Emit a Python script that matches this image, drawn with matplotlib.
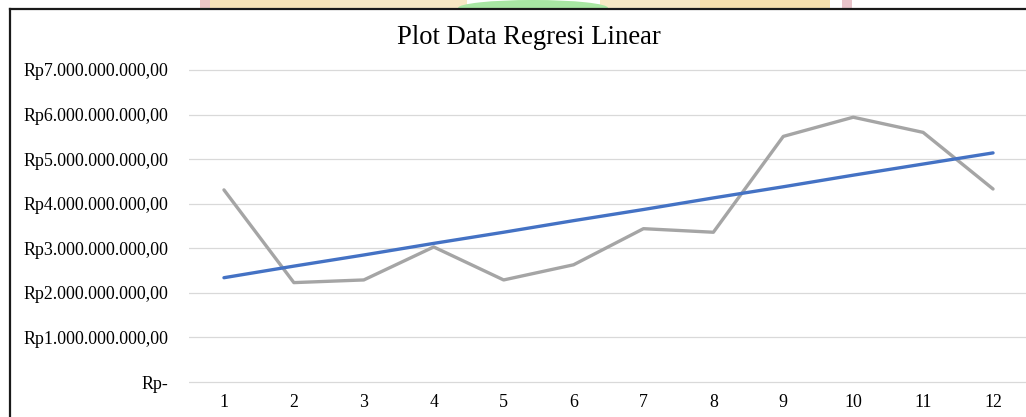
import numpy as np
import matplotlib.pyplot as plt
from matplotlib.patches import Ellipse, Rectangle
from matplotlib.lines import Line2D

plt.rcParams['font.family'] = ['Liberation Serif', 'DejaVu Serif']

# data (Rupiah)
bulan = [1, 2, 3, 4, 5, 6, 7, 8, 9, 10, 11, 12]
aktual = [4.31e9, 2.23e9, 2.29e9, 3.03e9, 2.29e9, 2.63e9,
          3.44e9, 3.36e9, 5.51e9, 5.94e9, 5.60e9, 4.33e9]
regresi = [2.34e9, 2.60e9, 2.85e9, 3.11e9, 3.36e9, 3.62e9,
           3.87e9, 4.13e9, 4.38e9, 4.64e9, 4.89e9, 5.14e9]
yticks = [0, 1e9, 2e9, 3e9, 4e9, 5e9, 6e9, 7e9]
ylabels = ['Rp-', 'Rp1.000.000.000,00', 'Rp2.000.000.000,00', 'Rp3.000.000.000,00',
           'Rp4.000.000.000,00', 'Rp5.000.000.000,00', 'Rp6.000.000.000,00',
           'Rp7.000.000.000,00']

W, H = 1026, 417
fig = plt.figure(figsize=(W / 100, H / 100), dpi=100)

# faint logo strip above the chart frame
for x0, x1, c in [(200, 210, '#ecc4c4'), (210, 330, '#f8e4b8'), (330, 467, '#f7e8c4'),
                  (600, 700, '#f7e8c4'), (700, 830, '#f6dfae'), (842, 852, '#e8c3ca')]:
    fig.add_artist(Rectangle((x0 / W, 1 - 8 / H), (x1 - x0) / W, 8 / H,
                             transform=fig.transFigure, color=c, lw=0, zorder=-3))
fig.add_artist(Ellipse((533 / W, 1 - 8 / H), 150 / W, 16 / H,
                       transform=fig.transFigure, color='#a8e6a3', lw=0, zorder=-2))
fig.add_artist(Rectangle((0, 0), 1, 1 - 9 / H, transform=fig.transFigure,
                         color='white', lw=0, zorder=-1))

# chart frame
fig.add_artist(Line2D([10 / W, 1], [1 - 8.5 / H] * 2, transform=fig.transFigure,
                      color='#1a1a1a', lw=1.6))
fig.add_artist(Line2D([10 / W] * 2, [0, 1 - 8.5 / H], transform=fig.transFigure,
                      color='#1a1a1a', lw=1.6))

ax = fig.add_axes([189 / W, 21.6 / H, 839 / W, 338.8 / H])
ax.patch.set_visible(False)
ax.plot(bulan, aktual, color='#A5A5A5', lw=2.4, solid_capstyle='round')
ax.plot(bulan, regresi, color='#4472C4', lw=2.4, solid_capstyle='round')

ax.set_xlim(0.5, 12.5)
ax.set_ylim(-0.3e9, 7.3e9)
ax.set_xticks(bulan)
ax.set_yticks(yticks)
ax.set_yticklabels(ylabels)
ax.tick_params(axis='both', length=0, labelsize=12.9)
ax.tick_params(axis='y', pad=15)
ax.tick_params(axis='x', pad=-1)
ax.grid(axis='y', color='#D9D9D9', lw=0.9)
ax.set_axisbelow(True)
for s in ax.spines.values():
    s.set_visible(False)

fig.text(529 / W, 1 - 37 / H, 'Plot Data Regresi Linear', ha='center', va='center',
         fontsize=19.2)

fig.savefig('out.png', dpi=100)
